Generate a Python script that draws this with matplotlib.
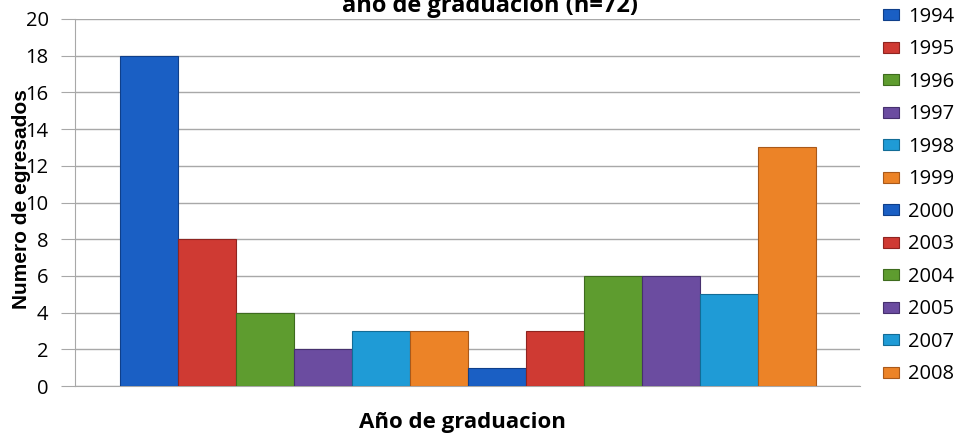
import numpy as np
import matplotlib.pyplot as plt

anios = ['1994', '1995', '1996', '1997', '1998', '1999',
         '2000', '2003', '2004', '2005', '2007', '2008']
egresados = [18, 8, 4, 2, 3, 3, 1, 3, 6, 6, 5, 13]
colores = ['#1a5fc4', '#cf3a33', '#5e9c2f', '#6b4ca0', '#1f9bd6', '#ec8327',
           '#1a5fc4', '#cf3a33', '#5e9c2f', '#6b4ca0', '#1f9bd6', '#ec8327']
bordes = ['#0f3f8a', '#8f2420', '#3e6b1e', '#46306e', '#136c96', '#a9591a',
          '#0f3f8a', '#8f2420', '#3e6b1e', '#46306e', '#136c96', '#a9591a']
yticks = [0, 2, 4, 6, 8, 10, 12, 14, 16, 18, 20]

W, H = 969, 438
fig = plt.figure(figsize=(W / 100, H / 100), dpi=100)
ax = fig.add_axes([75 / W, (H - 386) / H, (860 - 75) / W, (386 - 19) / H])

x = np.arange(len(anios))
for i in range(len(anios)):
    ax.bar(x[i], egresados[i], width=1.0, color=colores[i],
           edgecolor=bordes[i], linewidth=0.8, label=anios[i], zorder=3)

ax.set_ylim(0, 20)
ax.set_xlim(-1.276, 12.26)
ax.set_yticks(yticks)
ax.set_xticks([])
ax.yaxis.grid(True, color='#a8a8a8', linewidth=1.0, zorder=0)
ax.tick_params(axis='y', length=10, color='#a8a8a8', pad=9,
               labelsize=14.5)
for lbl in ax.get_yticklabels():
    lbl.set_fontfamily('Open Sans')
for s in ['top', 'right']:
    ax.spines[s].set_visible(False)
ax.spines['left'].set_color('#a8a8a8')
ax.spines['bottom'].set_color('#a8a8a8')

# la etiqueta se monta sobre los numeros, como en el original
ax.set_ylabel('Numero de egresados', fontsize=15, fontweight='bold',
              family='Liberation Sans')
ax.yaxis.set_label_coords(-44 / 785, 0.51)

fig.text(462 / W, (H - 428) / H, 'Año de graduacion', ha='center',
         va='baseline', fontsize=16, fontweight='bold', family='Open Sans')
fig.text(490 / W, (H - 12) / H, 'año de graduacion (n=72)', ha='center',
         va='baseline', fontsize=17, fontweight='bold', family='Open Sans')

fig.legend(loc='upper left', bbox_to_anchor=(883 / W, (H - 7) / H),
           frameon=False, prop={'family': 'Open Sans', 'size': 14.5},
           handlelength=0.8, handleheight=0.47, handletextpad=0.45,
           labelspacing=0.62, borderpad=0, borderaxespad=0)

fig.savefig('out.png', dpi=100)
